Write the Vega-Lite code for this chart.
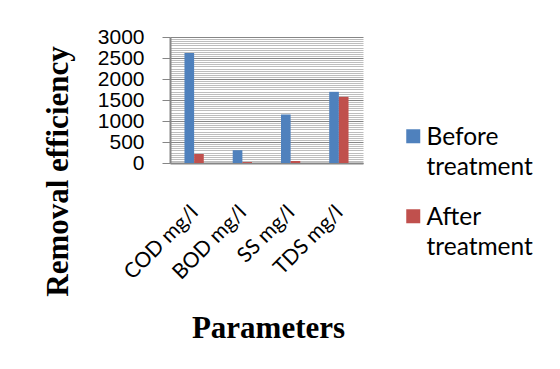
{
  "$schema": "https://vega.github.io/schema/vega-lite/v6.json",
  "autosize": {"type": "none"},
  "width": 193,
  "height": 126,
  "padding": {"left": 170, "top": 37, "right": 197, "bottom": 206},
  "background": "white",
  "data": {"values": [
    {"param": "COD mg/l", "series": "Before treatment", "value": 2620},
    {"param": "COD mg/l", "series": "After treatment", "value": 215},
    {"param": "BOD mg/l", "series": "Before treatment", "value": 305},
    {"param": "BOD mg/l", "series": "After treatment", "value": 22},
    {"param": "SS mg/l", "series": "Before treatment", "value": 1155},
    {"param": "SS mg/l", "series": "After treatment", "value": 50},
    {"param": "TDS mg/l", "series": "Before treatment", "value": 1695},
    {"param": "TDS mg/l", "series": "After treatment", "value": 1575}
  ]},
  "mark": {"type": "bar"},
  "encoding": {
    "x": {
      "field": "param", "type": "nominal", "sort": null,
      "scale": {"paddingInner": 0.6, "paddingOuter": 0.3},
      "axis": {
        "title": "Parameters",
        "titleFont": "Liberation Serif", "titleFontSize": 31, "titleFontWeight": "bold", "titleColor": "black",
        "titleX": 98, "titleY": 174, "titleBaseline": "alphabetic", "titleAlign": "center", "titleAnchor": null,
        "labelAngle": -45, "labelAlign": "right", "labelBaseline": "middle",
        "labelFont": "Lato", "labelFontSize": 21, "labelColor": "black",
        "labelPadding": 46, "labelOffset": 1,
        "ticks": false, "tickSize": 0,
        "domainColor": "#868686", "domainWidth": 2,
        "grid": false
      }
    },
    "xOffset": {"field": "series", "type": "nominal", "sort": ["Before treatment", "After treatment"], "scale": {"paddingInner": 0, "paddingOuter": 0}},
    "y": {
      "field": "value", "type": "quantitative",
      "scale": {"domain": [0, 3000], "nice": false},
      "axis": {
        "title": "Removal efficiency",
        "titleFont": "Liberation Serif", "titleFontSize": 31, "titleFontWeight": "bold", "titleColor": "black",
        "titleAngle": 270, "titleX": -103, "titleY": 134, "titleBaseline": "alphabetic", "titleAlign": "center", "titleAnchor": null,
        "values": [0,50,100,150,200,250,300,350,400,450,500,550,600,650,700,750,800,850,900,950,1000,1050,1100,1150,1200,1250,1300,1350,1400,1450,1500,1550,1600,1650,1700,1750,1800,1850,1900,1950,2000,2050,2100,2150,2200,2250,2300,2350,2400,2450,2500,2550,2600,2650,2700,2750,2800,2850,2900,2950,3000],
        "labelExpr": "datum.value % 500 === 0 ? datum.label : ''",
        "format": "d",
        "labelFont": "Liberation Sans", "labelFontSize": 21, "labelColor": "black",
        "labelPadding": 18, "labelBaseline": "middle", "labelOverlap": false,
        "tickSize": 8, "tickColor": "#868686",
        "tickOpacity": {"condition": {"test": "datum.value % 500 === 0", "value": 1}, "value": 0},
        "domainColor": "#868686", "domainWidth": 2,
        "grid": true,
        "gridColor": {"condition": {"test": "datum.value % 500 === 0", "value": "#868686"}, "value": "#bdbdbd"},
        "gridWidth": 1
      }
    },
    "color": {
      "field": "series", "type": "nominal",
      "sort": ["Before treatment", "After treatment"],
      "scale": {"domain": ["Before treatment", "After treatment"], "range": ["#4F81BD", "#C0504D"]},
      "legend": {
        "title": null,
        "orient": "none", "legendX": 231, "legendY": 77, "padding": 0,
        "symbolType": "M-1,0.43H1V2.43H-1Z", "symbolSize": 196, "symbolStrokeWidth": 0,
        "labelFont": "Lato", "labelFontSize": 24.5, "labelColor": "black",
        "labelBaseline": "top", "labelOffset": 1, "labelLimit": 300,
        "labelExpr": "split(datum.label, ' ')",
        "rowPadding": 14,
        "encoding": {"labels": {"lineHeight": {"value": 30}}}
      }
    }
  },
  "config": {"view": {"stroke": null}}
}
